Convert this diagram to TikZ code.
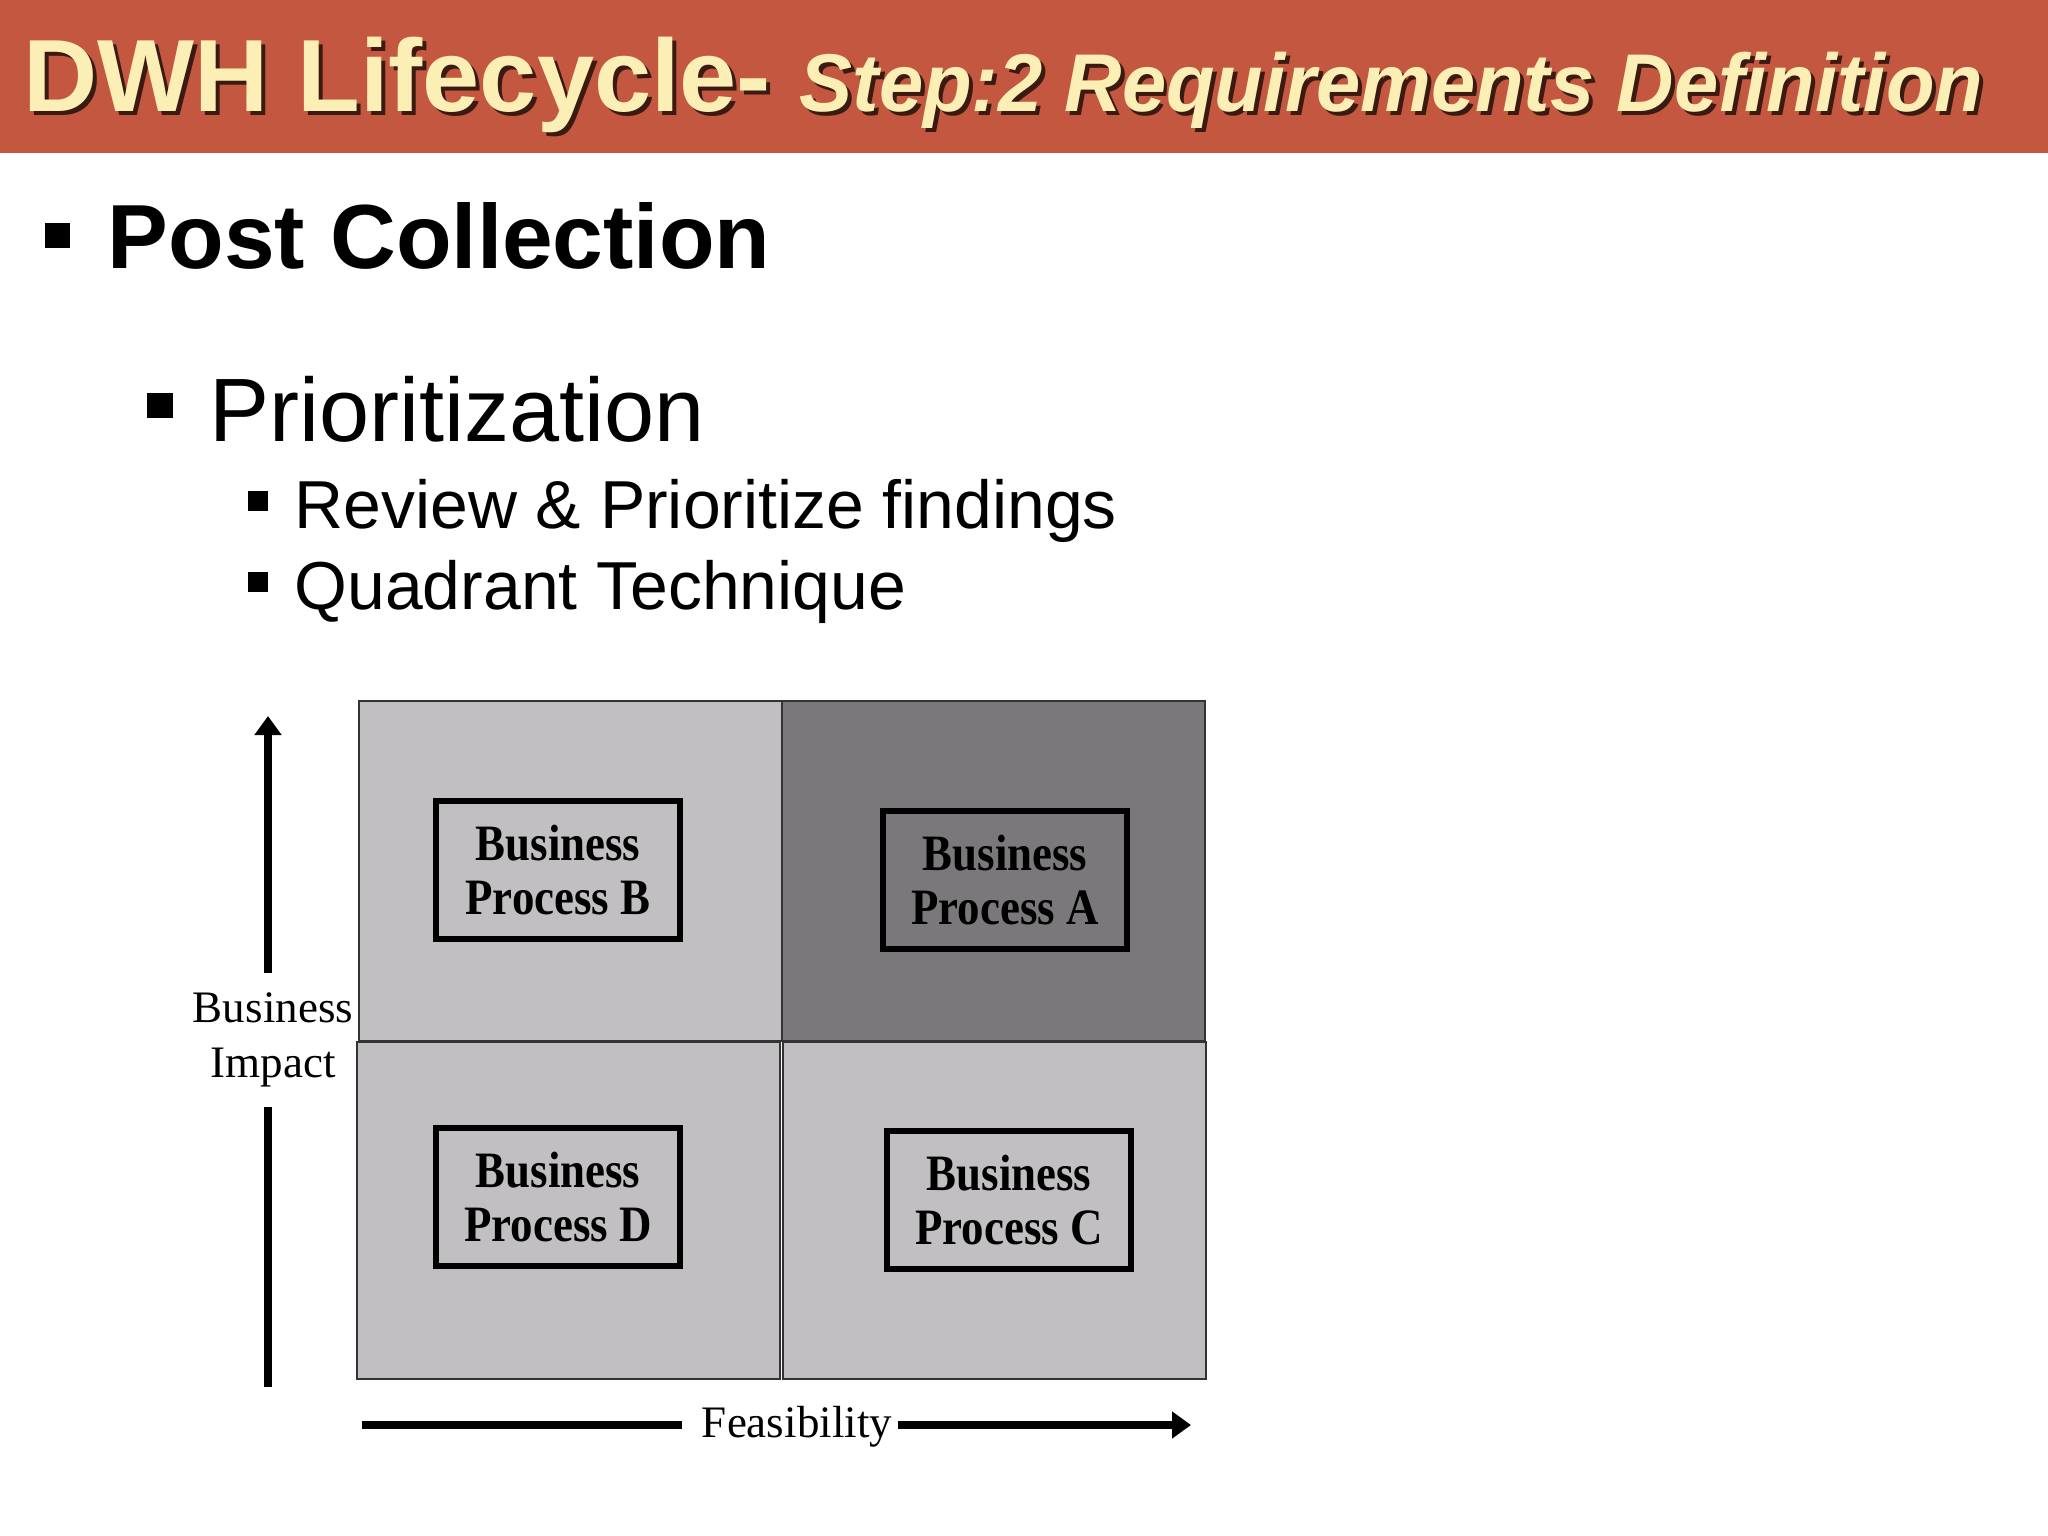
\documentclass[tikz,border=0pt]{standalone}
\usepackage{fontspec}
\setmainfont{Liberation Serif}
\setsansfont{Liberation Sans}
\newfontfamily\boxfont[FakeStretch=0.88]{Liberation Serif}
\usetikzlibrary{positioning,arrows.meta}

\definecolor{slidered}{HTML}{C4573F}
\definecolor{titlecream}{HTML}{FBEFB6}
\definecolor{titleshade}{HTML}{3B1A12}
\definecolor{quadlight}{HTML}{C1BFC2}
\definecolor{quaddark}{HTML}{7A787B}

\newcommand{\slidetitle}{\sffamily\bfseries\fontsize{29.2}{32}\selectfont DWH Lifecycle- {\fontsize{23.3}{26}\selectfont\itshape\scalebox{0.97}[1]{Step:2 Requirements Definition}}}

\tikzset{
  titletext/.style={anchor=base west, inner sep=0},
  sqbullet/.style={fill=black, inner sep=0},
  lvlone/.style={anchor=base west, inner sep=0, font=\sffamily\bfseries\fontsize{25.9}{30}\selectfont},
  lvltwo/.style={anchor=base west, inner sep=0, font=\sffamily\fontsize{25.6}{30}\selectfont},
  lvlthree/.style={anchor=base west, inner sep=0, font=\sffamily\fontsize{19.3}{23}\selectfont},
  quad/.style={draw=black!80, line width=0.5pt, minimum width=4.23cm, anchor=north west, inner sep=0},
  procbox/.style={draw=black, line width=1.7pt, minimum width=2.44cm, minimum height=1.37cm,
    align=center, inner sep=0, font=\boxfont\bfseries\fontsize{14.5}{15.6}\selectfont},
  axislabel/.style={align=center, font=\fontsize{12.8}{15.6}\selectfont},
  axisline/.style={line width=2.35pt},
  axistip/.style={-{Triangle[width=7.4pt,length=5.4pt]}},
}

\begin{document}
\begin{tikzpicture}[x=0.01cm, y=-0.01cm]
\useasboundingbox (0,0) rectangle (2048,1536);
\fill[white] (0,0) rectangle (2048,1536);

% title bar
\fill[slidered] (0,0) rectangle (2048,153);
\node[titletext, text=titleshade] (titleshadow) at (27,115) {\slidetitle};
\node[titletext, text=titlecream] (title) at (23,111) {\slidetitle};

% bullet list
\node[sqbullet, minimum size=0.24cm] (b1) at (57.5,235.5) {};
\node[lvlone] (post) at (107,268) {Post Collection};
\node[sqbullet, minimum size=0.25cm] (b2) at (160,405) {};
\node[lvltwo] (prio) at (209,441) {Prioritization};
\foreach \i/\y/\txt in {1/528/Review \& Prioritize findings, 2/609/Quadrant Technique} {
  \node[sqbullet, minimum size=0.2cm] (b3\i) at (258,\y-27) {};
  \node[lvlthree] (sub\i) at (294,\y) {\txt};
}

% quadrants
\node[quad, fill=quadlight, minimum height=3.4cm] (qB) at (358,700) {};
\node[quad, fill=quaddark, minimum height=3.4cm] (qA) at (781,700) {};
\node[quad, fill=quadlight, minimum height=3.37cm] (qD) at (356,1041) {};
\node[quad, fill=quadlight, minimum height=3.37cm] (qC) at (782,1041) {};

\node[procbox] (pB) at (558,870) {Business\\Process B};
\node[procbox] (pA) at (1005,880) {Business\\Process A};
\node[procbox] (pD) at (558,1197) {Business\\Process D};
\node[procbox] (pC) at (1009,1200) {Business\\Process C};

% axes
\node[axislabel, inner sep=5.5pt] (impact) at (273,1040) {Business\\Impact};
\coordinate (ytop) at (268,716);
\coordinate (ybot) at (268,1387);
\draw[axisline, axistip] (impact.north -| ytop) -- (ytop);
\draw[axisline] (ybot) -- (ybot |- impact.south);

\node[axislabel, inner xsep=1.5pt] (feas) at (797,1427) {Feasibility};
\coordinate (xleft) at (362,1425);
\coordinate (xright) at (1191,1425);
\draw[axisline] (xleft) -- ([xshift=-4pt]xleft -| feas.west);
\draw[axisline, axistip] (feas.east |- xright) -- (xright);
\end{tikzpicture}
\end{document}
